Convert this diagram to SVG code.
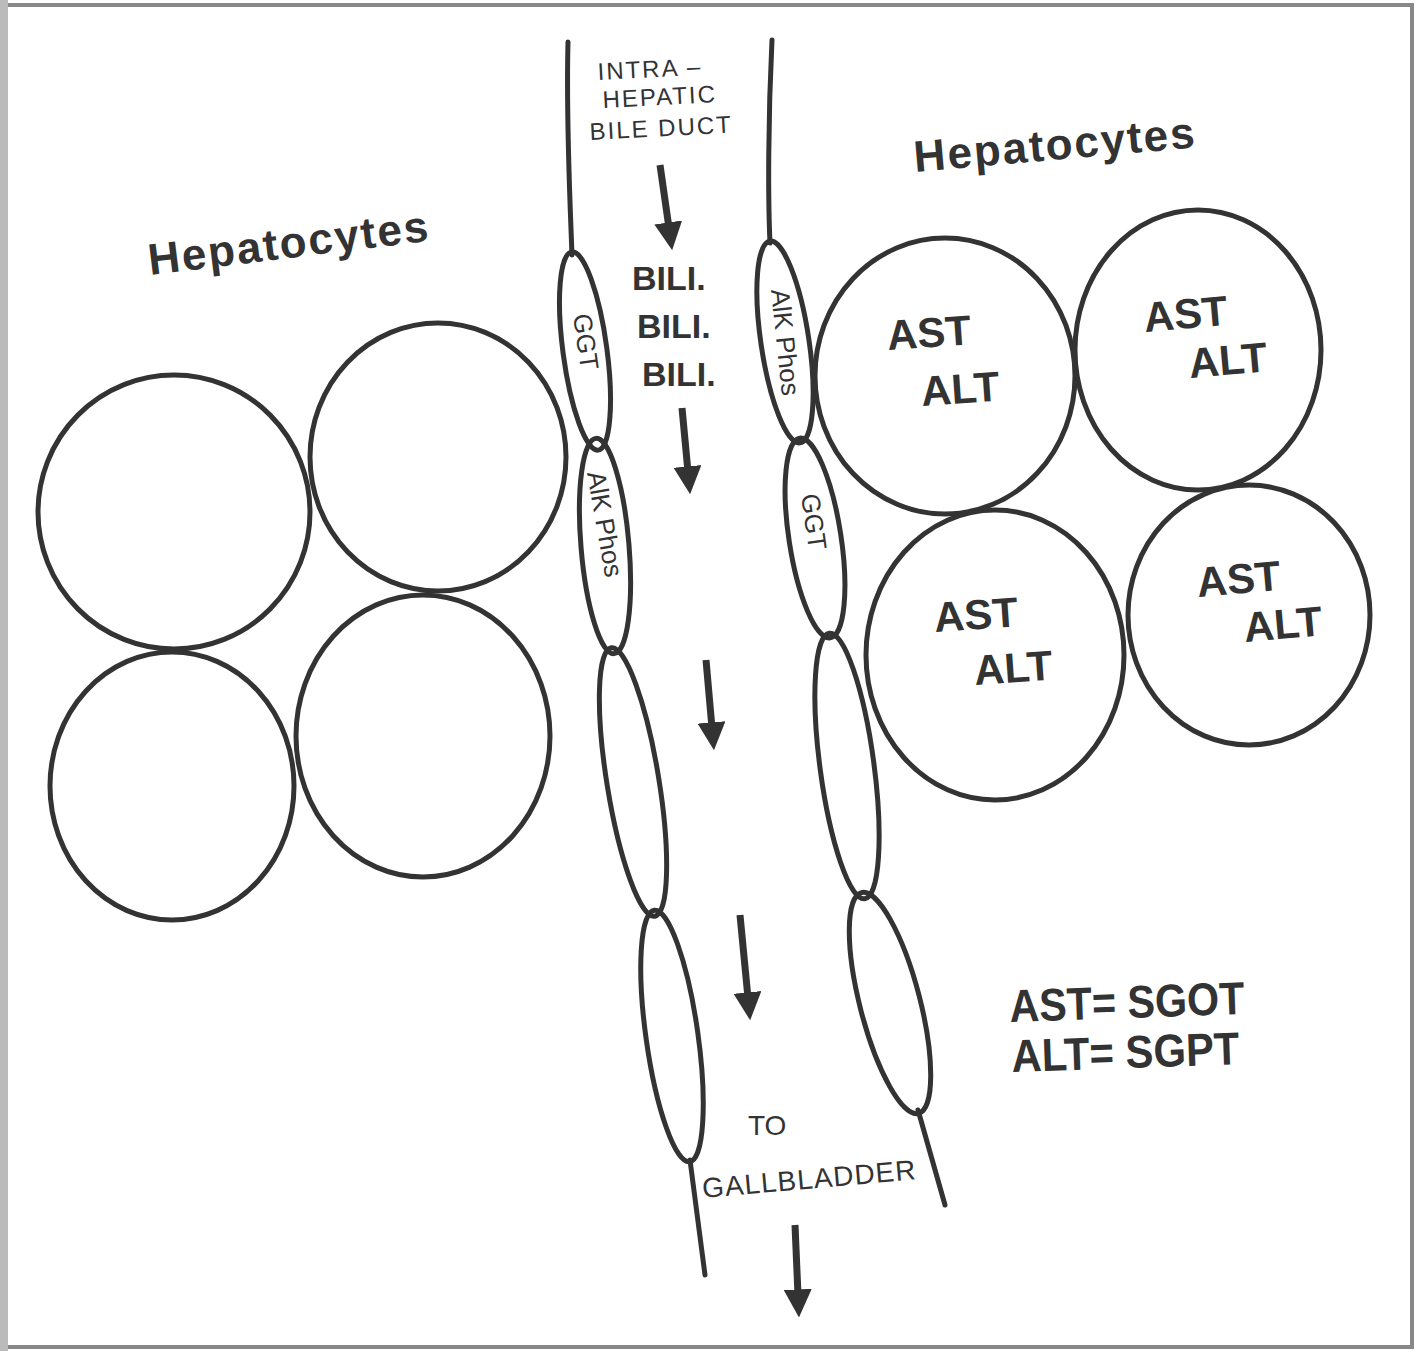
<svg xmlns="http://www.w3.org/2000/svg" width="1415" height="1351" viewBox="0 0 1415 1351">
<style>
.ln{fill:none;stroke:#333;stroke-width:5;stroke-linecap:round}
.cell{fill:none;stroke:#333;stroke-width:5}
.t{font-family:"Liberation Sans",Arial,sans-serif;fill:#333}
.hep{font-size:44px;font-weight:bold;letter-spacing:2px}
.enz{font-size:42px;font-weight:bold}
.sm{font-size:24px;letter-spacing:2px}
.rot{font-size:26px}
.bili{font-size:34px;font-weight:bold}
.ar{fill:none;stroke:#333;stroke-width:7;marker-end:url(#ah)}
</style>
<defs>
<marker id="ah" viewBox="0 0 10 10" refX="2" refY="5" markerWidth="4" markerHeight="4" orient="auto" markerUnits="strokeWidth">
<path d="M0,0 L10,5 L0,10 z" fill="#333"/>
</marker>
</defs>
<rect x="0" y="0" width="1415" height="1351" fill="#fff"/>
<rect x="4" y="5" width="1408" height="1342" fill="none" stroke="#888" stroke-width="4"/>
<rect x="0" y="0" width="8" height="1351" fill="#bbb"/>

<g id="left-hepatocytes">
<text class="t hep" x="150" y="275" transform="rotate(-7 150 275)">Hepatocytes</text>
<ellipse class="cell" cx="174" cy="512" rx="136" ry="137"/>
<ellipse class="cell" cx="438" cy="457" rx="128" ry="134"/>
<ellipse class="cell" cx="172" cy="786" rx="122" ry="134"/>
<ellipse class="cell" cx="423" cy="736" rx="127" ry="141"/>
</g>

<g id="right-hepatocytes">
<text class="t hep" x="915" y="172" transform="rotate(-5 915 172)">Hepatocytes</text>
<g id="r1"><ellipse class="cell" cx="945" cy="376" rx="130" ry="138"/>
<text class="t enz" x="888" y="350" transform="rotate(-4 888 350)">AST</text>
<text class="t enz" x="922" y="406" transform="rotate(-4 922 406)">ALT</text></g>
<g id="r2"><ellipse class="cell" cx="1198" cy="350" rx="123" ry="140"/>
<text class="t enz" x="1145" y="332" transform="rotate(-5 1145 332)">AST</text>
<text class="t enz" x="1190" y="378" transform="rotate(-5 1190 378)">ALT</text></g>
<g id="r3"><ellipse class="cell" cx="995" cy="655" rx="129" ry="145"/>
<text class="t enz" x="935" y="632" transform="rotate(-4 935 632)">AST</text>
<text class="t enz" x="975" y="685" transform="rotate(-4 975 685)">ALT</text></g>
<g id="r4"><ellipse class="cell" cx="1249" cy="615" rx="121" ry="130"/>
<text class="t enz" x="1198" y="597" transform="rotate(-5 1198 597)">AST</text>
<text class="t enz" x="1245" y="642" transform="rotate(-5 1245 642)">ALT</text></g>
</g>

<g id="duct-left-wall">
<path class="ln" d="M568,42 C566,120 570,200 572,255"/>
<ellipse class="ln" cx="585" cy="351" rx="22" ry="100" transform="rotate(-7.6 585 351)"/>
<ellipse class="ln" cx="605" cy="546" rx="24" ry="108" transform="rotate(-4.8 605 546)"/>
<ellipse class="ln" cx="633" cy="782" rx="26" ry="136" transform="rotate(-9.2 633 782)"/>
<ellipse class="ln" cx="672" cy="1036" rx="26" ry="127" transform="rotate(-8 672 1036)"/>
<path class="ln" d="M690,1160 L705,1275"/>
<text class="t rot" transform="translate(573 315) rotate(82)">GGT</text>
<text class="t rot" transform="translate(587 473) rotate(80)">AlK Phos</text>
</g>

<g id="duct-right-wall">
<path class="ln" d="M772,40 C768,120 768,200 770,243"/>
<ellipse class="ln" cx="785" cy="342" rx="24" ry="102" transform="rotate(-8.5 785 342)"/>
<ellipse class="ln" cx="815" cy="538" rx="26" ry="101" transform="rotate(-8.7 815 538)"/>
<ellipse class="ln" cx="847" cy="766" rx="27" ry="134" transform="rotate(-7.6 847 766)"/>
<ellipse class="ln" cx="890" cy="1003" rx="30" ry="114" transform="rotate(-14.5 890 1003)"/>
<path class="ln" d="M918,1110 L945,1205"/>
<text class="t rot" transform="translate(771 290) rotate(84)">AlK Phos</text>
<text class="t rot" transform="translate(801 495) rotate(82)">GGT</text>
</g>

<g id="duct-labels">
<text class="t sm" x="598" y="80" transform="rotate(-3 598 80)">INTRA –</text>
<text class="t sm" x="603" y="108" transform="rotate(-3 603 108)">HEPATIC</text>
<text class="t sm" x="590" y="140" transform="rotate(-3 590 140)">BILE DUCT</text>
<text class="t bili" x="632" y="290">BILI.</text>
<text class="t bili" x="637" y="338">BILI.</text>
<text class="t bili" x="642" y="386">BILI.</text>
<text class="t" style="font-size:28px" x="748" y="1135">TO</text>
<text class="t" style="font-size:28px;letter-spacing:1px" x="703" y="1198" transform="rotate(-5 703 1198)">GALLBLADDER</text>
</g>

<g id="connectors">
<path class="ar" d="M660,165 L669,228"/>
<path class="ar" d="M682,408 L688,472"/>
<path class="ar" d="M706,660 L712,728"/>
<path class="ar" d="M740,915 L748,998"/>
<path class="ar" d="M795,1225 L798,1295"/>
</g>

<g id="legend">
<text class="t" style="font-size:46px;font-weight:bold" x="1010" y="1022" textLength="235" lengthAdjust="spacingAndGlyphs" transform="rotate(-2 1010 1022)">AST= SGOT</text>
<text class="t" style="font-size:46px;font-weight:bold" x="1012" y="1072" textLength="228" lengthAdjust="spacingAndGlyphs" transform="rotate(-2 1012 1072)">ALT= SGPT</text>
</g>
</svg>
